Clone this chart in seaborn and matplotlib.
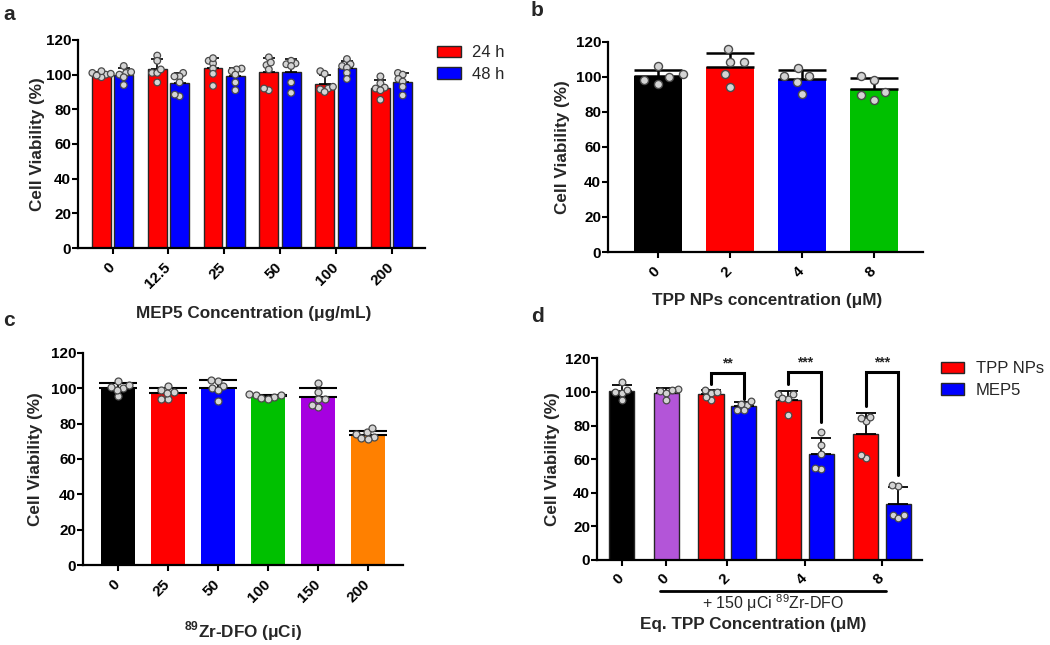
import numpy as np
import pandas as pd
import matplotlib
matplotlib.use("Agg")
import matplotlib.pyplot as plt
from matplotlib.patches import Patch
import seaborn as sns

# values (individual replicates, %)
a_conc = ["0", "12.5", "25", "50", "100", "200"]
a_times = ["24 h", "48 h"]
a_24h = [[100, 98.5, 101, 102, 100.5, 99.5],
         [111, 108, 101, 101, 103, 95.5],
         [108, 106.5, 109.5, 103.5, 100.5, 93.5],
         [110, 105.5, 107, 103, 91, 92],
         [102, 100.5, 91.5, 92, 90, 93],
         [99, 95, 92.5, 92, 91, 85.5]]
a_48h = [[101, 100, 105, 94, 101.5, 98.5],
         [101, 99, 99, 95.5, 87.5, 88.5],
         [103.5, 103, 102, 91, 95.5, 100],
         [106.5, 106, 108, 105, 95.5, 89.5],
         [109, 106, 105, 104, 101, 97.5],
         [101, 100, 97.5, 96, 93, 88]]

b_conc = ["0", "2", "4", "8"]
b_vals = [[100, 96, 106, 98, 101.5],
          [108.5, 116, 108.5, 101.5, 94.5],
          [100.5, 100.5, 97, 105, 90],
          [100.5, 98.5, 91.5, 87, 89.5]]

c_dose = ["0", "25", "50", "100", "150", "200"]
c_vals = [[100, 104, 102, 95.5, 99, 100.5],
          [99, 101.5, 98, 94, 94, 97.5],
          [104, 101.5, 100, 104.5, 93, 99],
          [96, 96.5, 95, 94, 96, 94.5],
          [103, 98, 94, 94, 89.5, 90.5],
          [75, 77.5, 74, 72.5, 72, 71.5]]

d_bars = ["ctrl", "Zr", "TPP 2", "MEP5 2", "TPP 4", "MEP5 4", "TPP 8", "MEP5 8"]
d_vals = [[100, 106, 99.5, 101, 95],
          [100.5, 101.5, 101, 99.5, 95],
          [99.5, 101, 100, 95, 97],
          [92, 94.5, 93, 89, 89],
          [99, 98.5, 96, 86, 96.5],
          [76, 68.5, 63, 54, 54.5],
          [82.5, 85, 84.5, 60.5, 62.5],
          [44, 44.5, 26.5, 25, 26.5]]
d_ticklabels = ["0", "0", "2", "4", "8"]
d_legend = ["TPP NPs", "MEP5"]
d_stars = ["**", "***", "***"]
d_br_top = [111.5, 112, 112]
d_br_left = [105, 105, 91.5]
d_br_right = [95.5, 82, 50.5]

# colours / layout
RED, BLUE = "#ff0000", "#0000ff"
b_colors = ["#000000", RED, BLUE, "#00c000"]
c_colors = ["#000000", RED, BLUE, "#00c000", "#a600e0", "#ff8000"]
d_colors = ["#000000", "#b355d8", RED, BLUE, RED, BLUE, RED, BLUE]
d_pos = [0, 1.37, 2.74, 3.74, 5.11, 6.11, 7.48, 8.48]
PT_FILL, PT_EDGE = "#d4d4d4", "#4a4a4a"
EDGE = "#262626"
LAB = 12.3

sns.set_style("ticks", {"axes.edgecolor": "black", "xtick.color": "black",
                        "ytick.color": "black"})
plt.rcParams['font.family'] = ['Liberation Sans', 'DejaVu Sans']
plt.rcParams['mathtext.fontset'] = 'custom'
plt.rcParams['mathtext.rm'] = 'Liberation Sans'
plt.rcParams['mathtext.bf'] = 'Liberation Sans:bold'

fig = plt.figure(figsize=(10.5, 6.45), dpi=100)
ax_a = fig.add_axes([0.0743, 0.6155, 0.3305, 0.3225])
ax_b = fig.add_axes([0.579, 0.6093, 0.300, 0.3256])
ax_c = fig.add_axes([0.079, 0.124, 0.3048, 0.329])
ax_d = fig.add_axes([0.5686, 0.1318, 0.3095, 0.3127])


def long_df(groups, vals, key):
    rows = [(g, v) for g, vs in zip(groups, vals) for v in vs]
    return pd.DataFrame(rows, columns=[key, "val"])


def sd_errorbars(ax, xs, df, key, order, capsize, lw):
    st = df.groupby(key, sort=False)["val"].agg(["mean", "std"]).reindex(order)
    ax.errorbar(xs, st["mean"], yerr=[np.zeros(len(st)), st["std"]], fmt="none",
                ecolor="black", elinewidth=lw, capsize=capsize, capthick=lw, zorder=2.5)


def style(ax, xlab, xlab_pos, ylab_x):
    sns.despine(ax=ax)
    ax.set_ylim(0, 120)
    ax.set_yticks(range(0, 121, 20))
    for sp in ["left", "bottom"]:
        ax.spines[sp].set_linewidth(1.6)
    ax.tick_params(width=1.5, length=4, labelsize=11)
    ax.tick_params(axis="y", pad=1)
    ax.tick_params(axis="x", pad=8)
    for t in ax.get_yticklabels():
        t.set_fontweight("bold")
    for t in ax.get_xticklabels():
        t.set_fontweight("bold")
        t.set_rotation(45)
        t.set_ha("right")
        t.set_va("center")
        t.set_rotation_mode("anchor")
    ax.set_ylabel("Cell Viability (%)", fontsize=LAB, fontweight="bold")
    ax.yaxis.set_label_coords(ylab_x, 0.5)
    ax.set_xlabel(xlab, fontsize=LAB, fontweight="bold")
    ax.xaxis.set_label_coords(*xlab_pos)


# ---- a ----
df_a = pd.concat([long_df(a_conc, a_24h, "conc").assign(time=a_times[0]),
                  long_df(a_conc, a_48h, "conc").assign(time=a_times[1])])
sns.barplot(data=df_a, x="conc", y="val", hue="time", order=a_conc, hue_order=a_times,
            palette=[RED, BLUE], saturation=1, errorbar=None, width=0.8, gap=0.16,
            edgecolor=EDGE, linewidth=1, legend=False, ax=ax_a)
idx = np.arange(len(a_conc))
for k, t in enumerate(a_times):
    sub = df_a[df_a.time == t]
    sd_errorbars(ax_a, idx + (k - 0.5) * 0.4, sub, "conc", a_conc, 4.5, 1.2)
sns.swarmplot(data=df_a, x="conc", y="val", hue="time", order=a_conc, hue_order=a_times,
              dodge=True, palette=[PT_FILL, PT_FILL], edgecolor=PT_EDGE, linewidth=0.9,
              size=2.6, legend=False, zorder=3, ax=ax_a)
ax_a.set_xlim(-0.62, 5.6)
style(ax_a, "MEP5 Concentration (μg/mL)", (0.507, -0.28), -0.095)
ax_a.legend([Patch(facecolor=c, edgecolor=EDGE, linewidth=1) for c in [RED, BLUE]], a_times,
            loc="upper left", bbox_to_anchor=(1.035, 0.975), frameon=False, fontsize=12,
            handlelength=1.4, handleheight=0.7, labelspacing=0.4, handletextpad=0.7,
            borderpad=0, borderaxespad=0)

# ---- b ----
df_b = long_df(b_conc, b_vals, "conc")
sns.barplot(data=df_b, x="conc", y="val", hue="conc", order=b_conc, palette=b_colors,
            saturation=1, errorbar=None, width=0.67, linewidth=0, legend=False, ax=ax_b)
sd_errorbars(ax_b, np.arange(len(b_conc)), df_b, "conc", b_conc, 17, 1.8)
sns.swarmplot(data=df_b, x="conc", y="val", order=b_conc, color=PT_FILL, edgecolor=PT_EDGE,
              linewidth=1, size=8.5, zorder=3, ax=ax_b)
ax_b.set_xlim(-0.69, 3.68)
style(ax_b, "TPP NPs concentration (μM)", (0.504, -0.195), -0.121)

# ---- c ----
df_c = long_df(c_dose, c_vals, "dose")
sns.barplot(data=df_c, x="dose", y="val", hue="dose", order=c_dose, palette=c_colors,
            saturation=1, errorbar=None, width=0.67, linewidth=0, legend=False, ax=ax_c)
sd_errorbars(ax_c, np.arange(len(c_dose)), df_c, "dose", c_dose, 14, 1.5)
sns.swarmplot(data=df_c, x="dose", y="val", order=c_dose, color=PT_FILL, edgecolor=PT_EDGE,
              linewidth=0.9, size=3.6, zorder=3, ax=ax_c)
ax_c.set_xlim(-0.7, 5.7)
style(ax_c, r"$^{\mathbf{89}}$Zr-DFO (μCi)", (0.5, -0.255), -0.124)

# ---- d ----
df_d = long_df(d_bars, d_vals, "bar")
df_d["pos"] = df_d["bar"].map(dict(zip(d_bars, d_pos)))
sns.barplot(data=df_d, x="pos", y="val", hue="bar", hue_order=d_bars, palette=d_colors,
            saturation=1, native_scale=True, errorbar=None, width=0.77, edgecolor=EDGE,
            linewidth=1, legend=False, ax=ax_d)
sd_errorbars(ax_d, d_pos, df_d, "bar", d_bars, 7, 1.3)
sns.swarmplot(data=df_d, x="pos", y="val", native_scale=True, color=PT_FILL,
              edgecolor=PT_EDGE, linewidth=0.9, size=3.4, zorder=3, ax=ax_d)
d_ticks = [d_pos[0], d_pos[1], (d_pos[2] + d_pos[3]) / 2, (d_pos[4] + d_pos[5]) / 2,
           (d_pos[6] + d_pos[7]) / 2]
ax_d.set_xticks(d_ticks)
ax_d.set_xticklabels(d_ticklabels)
ax_d.set_xlim(-0.75, 9.2)
style(ax_d, "Eq. TPP Concentration (μM)", (0.48, -0.281), -0.114)
for g in range(3):
    xl, xr = d_pos[2 + 2 * g], d_pos[3 + 2 * g]
    ax_d.plot([xl, xl, xr, xr], [d_br_left[g], d_br_top[g], d_br_top[g], d_br_right[g]],
              color="black", lw=2.2, solid_joinstyle="miter", zorder=4)
    ax_d.text((xl + xr) / 2, d_br_top[g] + 1.2, d_stars[g], ha="center", va="bottom",
              fontsize=10, fontweight="bold")
trans = ax_d.get_xaxis_transform()
ax_d.plot([1.17, 8.09], [-0.154, -0.154], color="black", lw=2, transform=trans, clip_on=False)
ax_d.text(4.65, -0.213, r"+ 150 μCi $^{89}$Zr-DFO", transform=trans, ha="center",
          va="center", fontsize=11.5)
ax_d.legend([Patch(facecolor=c, edgecolor=EDGE, linewidth=1) for c in [RED, BLUE]], d_legend,
            loc="upper left", bbox_to_anchor=(1.058, 0.985), frameon=False, fontsize=12,
            handlelength=1.4, handleheight=0.7, labelspacing=0.4, handletextpad=0.7,
            borderpad=0, borderaxespad=0)

# panel letters
for lab, (x, y) in zip("abcd", [(9, 14), (537, 10), (9, 320), (537, 317)]):
    fig.text(x / 1050, 1 - y / 645, lab, fontsize=15, fontweight="bold", ha="center", va="center")

# lay the swarms out with one marker size, then show the markers at another
# (overlapping in a/c/d, spread wider in b), as in the original figure
fig.canvas.draw()
for ax, full in [(ax_a, 4.8), (ax_b, 5.8), (ax_c, 5.0), (ax_d, 4.8)]:
    for coll in ax.collections:
        if "draw" in coll.__dict__:
            del coll.draw
            coll.set_sizes([full ** 2])

fig.savefig("out.png", dpi=100)
